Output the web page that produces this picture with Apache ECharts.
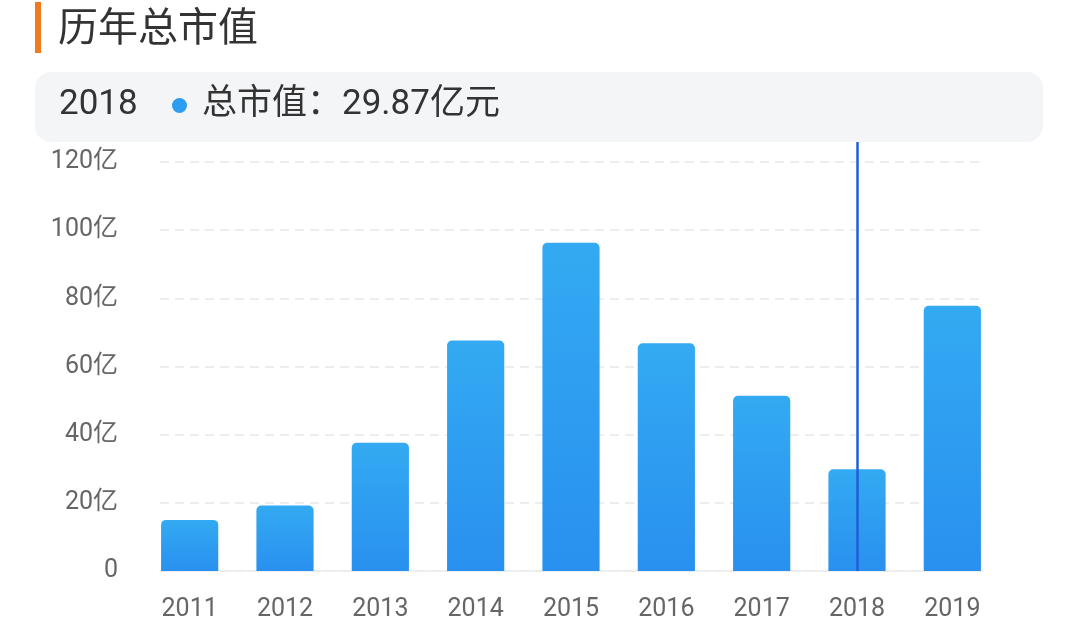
<!DOCTYPE html>
<html>
<head>
<meta charset="utf-8">
<script src="https://cdn.jsdelivr.net/npm/echarts@6/dist/echarts.min.js"></script>
<style>
html,body{margin:0;padding:0;background:#fff;}
#main{width:1080px;height:633px;}
</style>
</head>
<body>
<div id="main"></div>
<script>
const chartTitle = '历年总市值';
const seriesName = '总市值';
const unitLabel = '亿元';
const years = ['2011','2012','2013','2014','2015','2016','2017','2018','2019'];
const marketCap = [15.0, 19.2, 37.6, 67.6, 96.3, 66.8, 51.4, 29.87, 77.8];
const yTicks = [0, 20, 40, 60, 80, 100, 120];
const selectedYear = '2018';

const FONT = 'Roboto, "Noto Sans CJK SC", sans-serif';
const selIdx = years.indexOf(selectedYear);
const yMax = yTicks[yTicks.length - 1];
const yStep = yTicks[1] - yTicks[0];
// bar grid extends a little above the top tick so the highlight line reaches the info box
const plotBottom = 571, topTickY = 162, barGridTop = 142;
const barAxisMax = yMax * (plotBottom - barGridTop) / (plotBottom - topTickY);

const chart = echarts.init(document.getElementById('main'), null, {renderer: 'canvas'});
chart.setOption({
  backgroundColor: '#ffffff',
  animation: false,
  title: [
    {
      text: chartTitle, left: 53, top: 6,
      textStyle: {fontSize: 40, fontWeight: 'normal', color: '#333333', fontFamily: FONT}
    },
    {
      text: '{year|' + selectedYear + '}{dot|}{lab|' + seriesName + '：' + marketCap[selIdx].toFixed(2) + unitLabel + '}',
      left: 54, top: 83,
      textStyle: {
        fontWeight: 'normal',
        rich: {
          year: {fontSize: 35, fontWeight: 'normal', color: '#333333', fontFamily: FONT, width: 113},
          dot: {width: 15, height: 15, borderRadius: 7.5, backgroundColor: '#2e9cf0'},
          lab: {fontSize: 35, fontWeight: 'normal', color: '#333333', fontFamily: FONT, padding: [0, 0, 0, 15]}
        }
      }
    }
  ],
  graphic: [
    {type: 'rect', shape: {x: 35, y: 2, width: 6, height: 51}, style: {fill: '#f07a1f'}, z: 10},
    {type: 'rect', shape: {x: 35, y: 72, width: 1008, height: 70, r: 16}, style: {fill: '#f4f5f7'}, z: -10}
  ],
  grid: [
    {left: 142, right: 80, top: barGridTop, bottom: 633 - plotBottom},
    {left: 160, right: 97, top: topTickY, bottom: 633 - plotBottom}
  ],
  xAxis: [
    {
      type: 'category', gridIndex: 0, data: years,
      axisLine: {show: false}, axisTick: {show: false},
      axisLabel: {color: '#666666', fontSize: 25, fontFamily: FONT, margin: 26}
    },
    {
      type: 'category', gridIndex: 1, data: years,
      axisLine: {show: true, lineStyle: {color: '#ececec', width: 1.5}},
      axisTick: {show: false}, axisLabel: {show: false}
    }
  ],
  yAxis: [
    {
      type: 'value', gridIndex: 0, min: 0, max: barAxisMax,
      show: false, splitLine: {show: false}
    },
    {
      type: 'value', gridIndex: 1, min: 0, max: yMax, interval: yStep,
      axisLine: {show: false}, axisTick: {show: false},
      axisLabel: {
        color: '#666666', fontSize: 25, fontFamily: FONT, margin: 42,
        formatter: v => v === 0 ? '0' : v + '亿'
      },
      splitLine: {show: true, lineStyle: {color: '#e8e8e8', width: 1.5, type: [9, 6]}}
    }
  ],
  series: [
    {
      type: 'bar', name: seriesName, xAxisIndex: 0, yAxisIndex: 0,
      data: marketCap, barWidth: '60%',
      itemStyle: {
        borderRadius: [5, 5, 0, 0],
        color: new echarts.graphic.LinearGradient(0, 0, 0, 1, [
          {offset: 0, color: '#33aaf2'},
          {offset: 1, color: '#2990ef'}
        ])
      },
      markLine: {
        silent: true, symbol: 'none', label: {show: false},
        lineStyle: {color: '#1f5fd6', width: 2.5, type: 'solid'},
        data: [{xAxis: selectedYear}]
      }
    }
  ]
});
</script>
</body>
</html>
